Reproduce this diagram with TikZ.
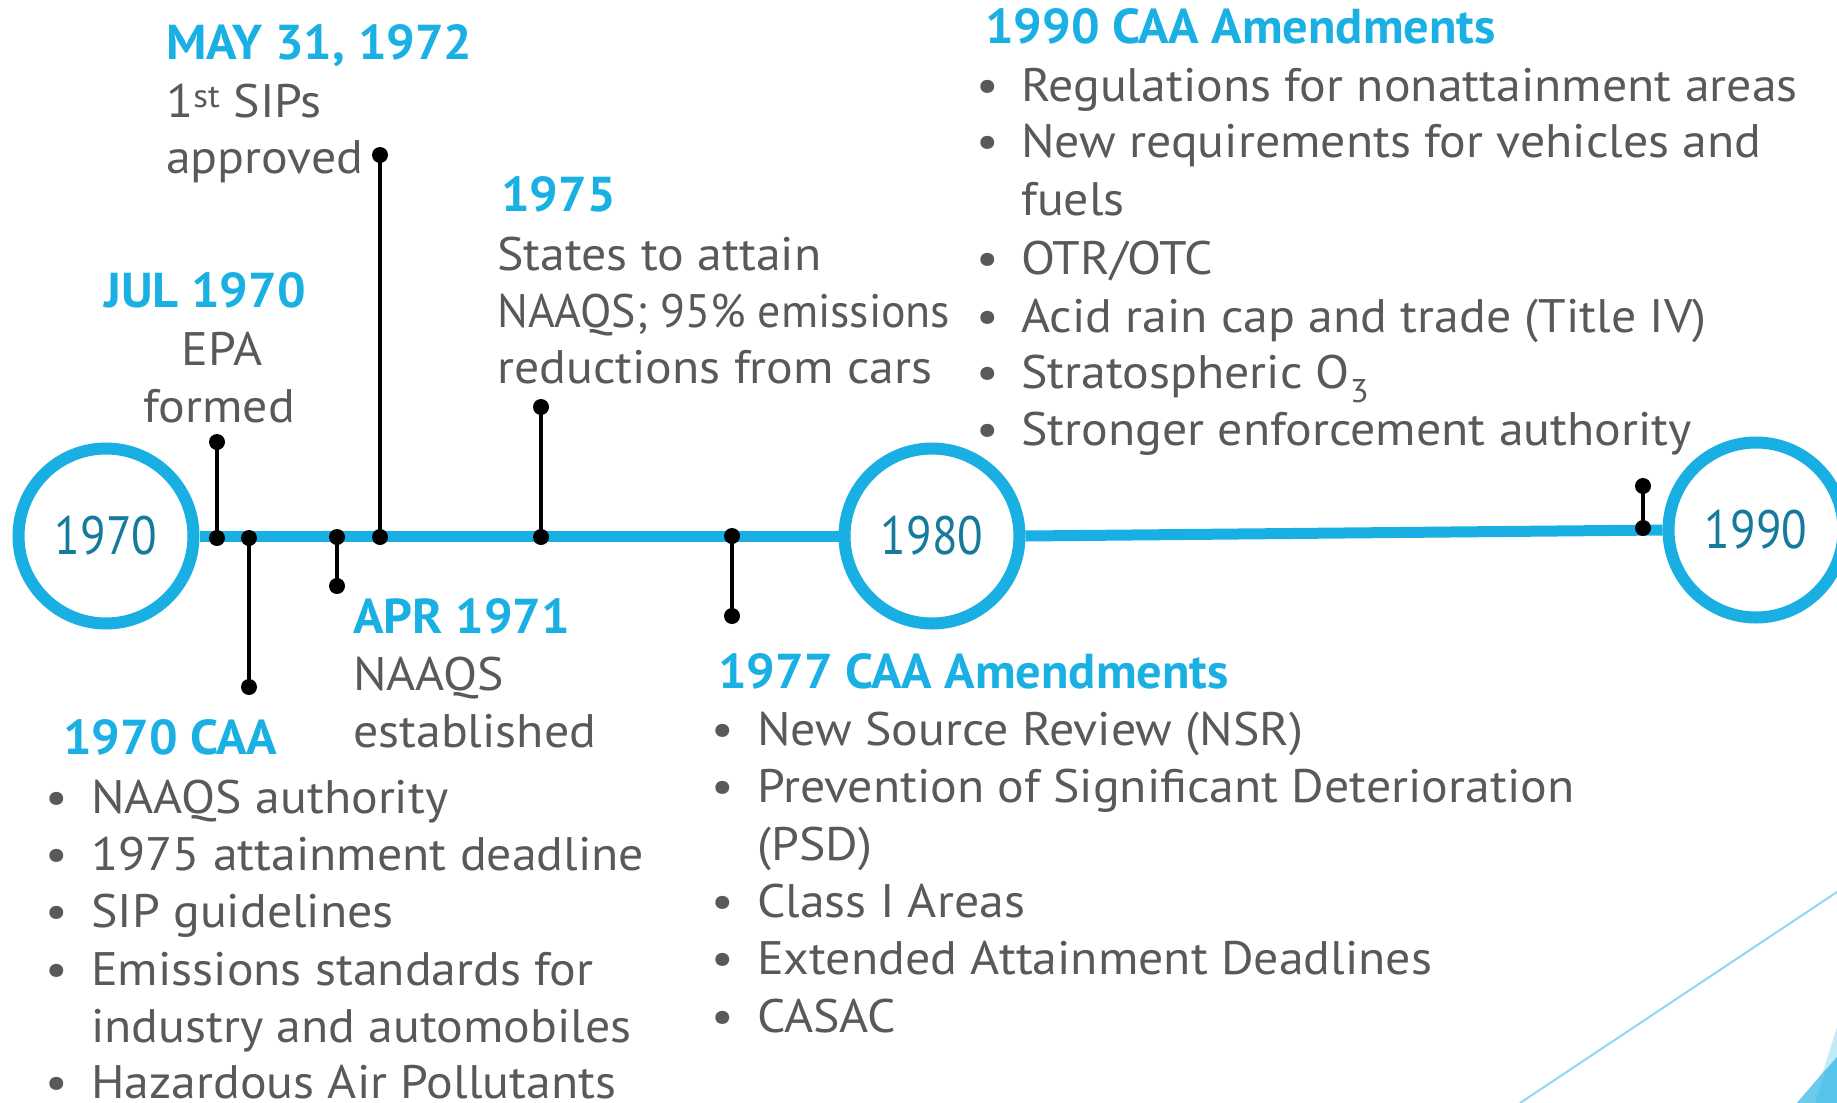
\documentclass[tikz,border=0pt]{standalone}
\usepackage{fontspec}
\setmainfont[FakeStretch=1.06]{PT Sans}
\newfontfamily\headfam[FakeStretch=1.03]{PT Sans}
\newfontfamily\tightfam[FakeStretch=0.975]{PT Sans}
\newfontfamily\yearfam[FakeStretch=0.87]{PT Sans}
\definecolor{lineblue}{HTML}{1AAFE2}
\definecolor{headblue}{HTML}{1AB0E4}
\definecolor{yeartxt}{HTML}{157A9C}
\definecolor{txtgray}{HTML}{595959}
\definecolor{facetline}{HTML}{8ED8F2}
\definecolor{facetlight}{HTML}{C4EAF7}
\definecolor{facetmid}{HTML}{6CCBEC}
\definecolor{facetdark}{HTML}{55C3EA}
\newcommand\bodyfont{\fontsize{47}{57}\selectfont}
\newcommand\tightfont{\tightfam\fontsize{47}{57}\selectfont}
\newcommand\headfont{\headfam\fontsize{49}{57}\bfseries\selectfont}
\newcommand\yearfont{\yearfam\fontsize{54}{60}\selectfont}
\tikzset{
  body/.style={font=\bodyfont, text=txtgray, inner sep=0pt, anchor=base west},
  bodyc/.style={body, anchor=base},
  head/.style={font=\headfont, text=headblue, inner sep=0pt, anchor=base west},
  headc/.style={head, anchor=base},
  bul/.style={body, anchor=base},
  yearring/.style={circle, draw=lineblue, line width=12pt, fill=white,
    minimum size=175pt, inner sep=0pt, font=\yearfont, text=yeartxt},
  axis/.style={draw=lineblue, line width=11pt},
  pin/.style={circle, fill=black, minimum size=16pt, inner sep=0pt},
  stem/.style={draw=black, line width=4pt},
}
\begin{document}
\begin{tikzpicture}[x=1pt,y=-1pt]
\useasboundingbox (0,0) rectangle (1837,1103);

% decorative corner: thin line and facets
\draw[facetline, line width=2pt] (1520,1103) -- (1837,892);
\fill[facetlight] (1837,1027) -- (1813,1103) -- (1837,1103) -- cycle;
\fill[facetdark] (1837,1057) -- (1797,1103) -- (1837,1103) -- cycle;
\fill[facetmid] (1826,1069) -- (1797,1103) -- (1815,1103) -- cycle;

% year rings
\node[yearring] (c1970) at (106,536) {1970};
\node[yearring] (c1980) at (932,536) {1980};
\node[yearring] (c1990) at (1756,530) {1990};

% timeline axis
\path[axis] (c1970.east) -- (c1980.west);
\path[axis] (c1980.east) -- (c1990.west);

% event pins: base on the axis, head at the label
\node[pin] (jul0) at (217,538) {};   \node[pin] (jul1) at (217,442) {};
\node[pin] (caa0) at (249,538) {};   \node[pin] (caa1) at (249,687) {};
\node[pin] (apr0) at (337,537) {};   \node[pin] (apr1) at (337,586) {};
\node[pin] (may0) at (380,537) {};   \node[pin] (may1) at (380,155) {};
\node[pin] (s750) at (541,537) {};   \node[pin] (s751) at (541,407) {};
\node[pin] (a770) at (732,536) {};   \node[pin] (a771) at (732,616) {};
\node[pin] (a900) at (1643,528) {};  \node[pin] (a901) at (1643,486) {};
\foreach \e in {jul,caa,apr,may,s75,a77,a90}
  \path[stem] (\e0.center) -- (\e1.center);

% MAY 31, 1972
\node[head] (mayh) at (166,59) {MAY 31, 1972};
\node[body] (mayt1) at (166,117) {1\textsuperscript{st} SIPs};
\node[body] (mayt2) at (166,173) {approved};

% JUL 1970
\node[headc] (julh) at (205,307) {JUL 1970};
\node[bodyc] (jult1) at (222,365) {EPA};
\node[bodyc] (jult2) at (219,422) {formed};

% 1975
\node[head] (s75h) at (501,211) {1975};
\node[body] (s75t1) at (497,270) {States to attain};
\node[body, font=\tightfont] (s75t2) at (497,327) {NAAQS; 95\% emissions};
\node[body] (s75t3) at (497,383) {reductions from cars};

% APR 1971
\node[head] (aprh) at (353,633) {APR 1971};
\node[body] (aprt1) at (353,690) {NAAQS};
\node[body] (aprt2) at (353,747) {established};

% 1970 CAA
\node[head] (caah) at (63,754) {1970 CAA};
\node[bul] (caab1) at (57,813) {•};  \node[body] (caat1) at (91,813) {NAAQS authority};
\node[bul] (caab2) at (57,870) {•};  \node[body] (caat2) at (91,870) {1975 attainment deadline};
\node[bul] (caab3) at (57,927) {•};  \node[body] (caat3) at (91,927) {SIP guidelines};
\node[bul] (caab4) at (57,985) {•};  \node[body] (caat4) at (91,985) {Emissions standards for};
\node[body] (caat5) at (91,1042) {industry and automobiles};
\node[bul] (caab6) at (57,1098) {•}; \node[body] (caat6) at (91,1098) {Hazardous Air Pollutants};

% 1977 CAA Amendments
\node[head] (a77h) at (718,688) {1977 CAA Amendments};
\node[bul] (a77b1) at (723,745) {•};  \node[body] (a77t1) at (757,745) {New Source Review (NSR)};
\node[bul] (a77b2) at (723,802) {•};  \node[body] (a77t2) at (757,802) {Prevention of Significant Deterioration};
\node[body] (a77t3) at (757,860) {(PSD)};
\node[bul] (a77b4) at (723,917) {•};  \node[body] (a77t4) at (757,917) {Class I Areas};
\node[bul] (a77b5) at (723,974) {•};  \node[body] (a77t5) at (757,974) {Extended Attainment Deadlines};
\node[bul] (a77b6) at (723,1032) {•}; \node[body] (a77t6) at (757,1032) {CASAC};

% 1990 CAA Amendments
\node[head] (a90h) at (985,43) {1990 CAA Amendments};
\node[bul] (a90b1) at (988,101) {•}; \node[body] (a90t1) at (1021,101) {Regulations for nonattainment areas};
\node[bul] (a90b2) at (988,157) {•}; \node[body] (a90t2) at (1021,157) {New requirements for vehicles and};
\node[body] (a90t3) at (1021,215) {fuels};
\node[bul] (a90b4) at (988,274) {•}; \node[body] (a90t4) at (1021,274) {OTR/OTC};
\node[bul] (a90b5) at (988,332) {•}; \node[body] (a90t5) at (1021,332) {Acid rain cap and trade (Title IV)};
\node[bul] (a90b6) at (988,388) {•}; \node[body] (a90t6) at (1021,388) {Stratospheric O\textsubscript{3}};
\node[bul] (a90b7) at (988,445) {•}; \node[body] (a90t7) at (1021,445) {Stronger enforcement authority};
\end{tikzpicture}
\end{document}
